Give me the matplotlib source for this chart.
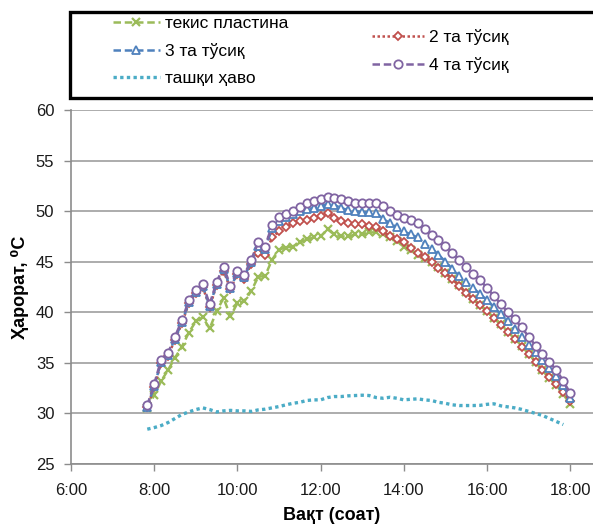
import numpy as np
import matplotlib
matplotlib.use('Agg')
import matplotlib.pyplot as plt
from matplotlib.patches import Rectangle

plt.rcParams['font.family'] = ['Liberation Sans', 'DejaVu Sans']

# time in hours, 10 minute steps
times = np.arange(7 * 60 + 50, 18 * 60 + 1, 10) / 60.0
air_times = np.arange(7 * 60 + 50, 17 * 60 + 51, 10) / 60.0

flat_plate = [30.5, 31.8, 33.2, 34.3, 35.5, 36.6, 38.0, 39.1, 39.5, 38.4,
              40.1, 41.4, 39.6, 40.9, 41.1, 42.1, 43.5, 43.6, 45.2, 46.2,
              46.4, 46.5, 46.9, 47.2, 47.4, 47.5, 48.2, 47.7, 47.5, 47.5,
              47.7, 47.7, 47.9, 47.9, 47.7, 47.4, 47.0, 46.5, 46.2, 45.7,
              45.4, 45.0, 44.5, 43.9, 43.3, 42.7, 42.0, 41.3, 40.7, 40.1,
              39.4, 38.8, 38.1, 37.4, 36.7, 35.9, 35.1, 34.3, 33.5, 32.8,
              31.9, 30.9]
baffles_2 = [30.6, 32.6, 35.0, 35.7, 37.3, 38.9, 40.9, 41.9, 42.5, 40.5,
             42.7, 44.1, 42.3, 43.8, 43.3, 44.8, 45.9, 45.7, 47.4, 48.0,
             48.4, 48.85, 49.0, 49.1, 49.35, 49.5, 49.85, 49.35, 49.0, 48.85,
             48.7, 48.7, 48.5, 48.4, 48.0, 47.5, 47.2, 46.9, 46.4, 45.9,
             45.5, 45.0, 44.4, 43.9, 43.3, 42.6, 41.9, 41.3, 40.7, 40.1,
             39.4, 38.7, 38.1, 37.4, 36.6, 35.9, 35.1, 34.3, 33.6, 32.9,
             32.1, 31.2]
baffles_3 = [30.6, 32.7, 35.1, 35.8, 37.4, 39.0, 41.0, 42.0, 42.6, 40.6,
             42.8, 44.3, 42.4, 43.9, 43.5, 45.0, 46.6, 46.3, 48.3, 49.0,
             49.4, 49.7, 50.0, 50.2, 50.3, 50.5, 50.7, 50.6, 50.3, 50.1,
             50.0, 49.9, 49.9, 49.85, 49.2, 48.85, 48.4, 48.0, 47.7, 47.4,
             46.8, 46.3, 45.7, 45.0, 44.3, 43.6, 43.0, 42.4, 41.8, 41.2,
             40.5, 39.8, 39.1, 38.3, 37.6, 36.8, 36.1, 35.3, 34.5, 33.7,
             32.8, 31.5]
baffles_4 = [30.8, 32.9, 35.3, 36.0, 37.6, 39.2, 41.2, 42.2, 42.8, 40.8,
             43.0, 44.5, 42.6, 44.1, 43.7, 45.2, 46.9, 46.5, 48.6, 49.4,
             49.7, 50.0, 50.4, 50.8, 51.0, 51.2, 51.4, 51.3, 51.2, 51.0,
             50.8, 50.8, 50.85, 50.8, 50.5, 50.0, 49.6, 49.3, 49.1, 48.8,
             48.2, 47.6, 47.1, 46.6, 45.9, 45.2, 44.5, 43.8, 43.2, 42.4,
             41.6, 40.8, 40.0, 39.3, 38.5, 37.6, 36.7, 35.9, 35.1, 34.3,
             33.2, 32.0]
outside_air = [28.44, 28.6, 28.8, 29.1, 29.5, 29.9, 30.15, 30.38, 30.55, 30.38,
               30.15, 30.25, 30.3, 30.25, 30.25, 30.2, 30.35, 30.42, 30.55, 30.68,
               30.85, 31.0, 31.1, 31.28, 31.34, 31.34, 31.57, 31.67, 31.67, 31.74,
               31.77, 31.8, 31.77, 31.57, 31.5, 31.6, 31.5, 31.34, 31.4, 31.44,
               31.34, 31.28, 31.1, 31.0, 30.85, 30.78, 30.78, 30.78, 30.8, 30.9,
               30.95, 30.75, 30.65, 30.55, 30.4, 30.2, 30.0, 29.8, 29.5, 29.2,
               28.9]

labels = ['текис пластина', '2 та тўсиқ', '3 та тўсиқ', '4 та тўсиқ', 'ташқи ҳаво']
x_ticks = [6, 8, 10, 12, 14, 16, 18]
x_ticklabels = ['6:00', '8:00', '10:00', '12:00', '14:00', '16:00', '18:00']
y_ticks = [25, 30, 35, 40, 45, 50, 55, 60]

W, H = 593, 527
fig = plt.figure(figsize=(W / 100, H / 100), dpi=100)
ax = fig.add_axes([71 / W, 1 - 464 / H, 1 - 71 / W, (464 - 110) / H])

dash = (0, (3, 1.5))
l1, = ax.plot(times, flat_plate, color='#9BBB59', lw=1.8, ls=dash,
              marker='x', ms=6, mew=1.6)
l2, = ax.plot(times, baffles_2, color='#C0504D', lw=1.8, ls=(0, (1, 1)),
              marker='D', ms=4, mfc='white', mew=1.3)
l3, = ax.plot(times, baffles_3, color='#4F81BD', lw=1.8, ls=dash,
              marker='^', ms=6, mfc='white', mew=1.3)
l4, = ax.plot(times, baffles_4, color='#8064A2', lw=1.8, ls=dash,
              marker='o', ms=6, mfc='white', mew=1.3)
l5, = ax.plot(air_times, outside_air, color='#4BACC6', lw=2.4, ls=(0, (1, 1)),
              dash_capstyle='butt')

ax.set_xlim(6, 6 + (W - 71) / 41.6)
ax.set_ylim(25, 60)
ax.set_xticks(x_ticks)
ax.set_xticklabels(x_ticklabels)
ax.set_yticks(y_ticks)
ax.tick_params(labelsize=12, colors='#1a1a1a', length=5, width=1, direction='out')
ax.tick_params(axis='both', color='#8c8c8c')
ax.tick_params(axis='x', pad=9)
ax.tick_params(axis='y', pad=7)
ax.yaxis.grid(True, color='#a6a6a6', lw=1.3)
ax.set_axisbelow(True)
for s in ['top', 'right']:
    ax.spines[s].set_visible(False)
for s in ['left', 'bottom']:
    ax.spines[s].set_color('#8c8c8c')
    ax.spines[s].set_linewidth(1.2)

fig.text(20 / W, 1 - 287 / H, 'Ҳарорат, ⁰С', rotation=90, ha='center', va='center',
         fontsize=13, fontweight='bold')
fig.text(332 / W, 1 - 516 / H, 'Вақт (соат)', ha='center', va='center',
         fontsize=13, fontweight='bold')

# legend box
fig.patches.append(Rectangle((70 / W, 1 - 98 / H), 1, 86 / H, transform=fig.transFigure,
                             facecolor='white', edgecolor='black', lw=2.4))
fig.legend([l1, l3, l5], [labels[0], labels[2], labels[4]], loc='center left',
           bbox_to_anchor=(113 / W, 1 - 51 / H), frameon=False, fontsize=12.5,
           handlelength=2.7, handletextpad=0.3, labelspacing=0.68,
           borderpad=0, borderaxespad=0, numpoints=1)
fig.legend([l2, l4], [labels[1], labels[3]], loc='center left',
           bbox_to_anchor=(372 / W, 1 - 51 / H), frameon=False, fontsize=12.5,
           handlelength=3.0, handletextpad=0.3, labelspacing=0.65,
           borderpad=0, borderaxespad=0, numpoints=1)

fig.savefig('out.png', dpi=100)
